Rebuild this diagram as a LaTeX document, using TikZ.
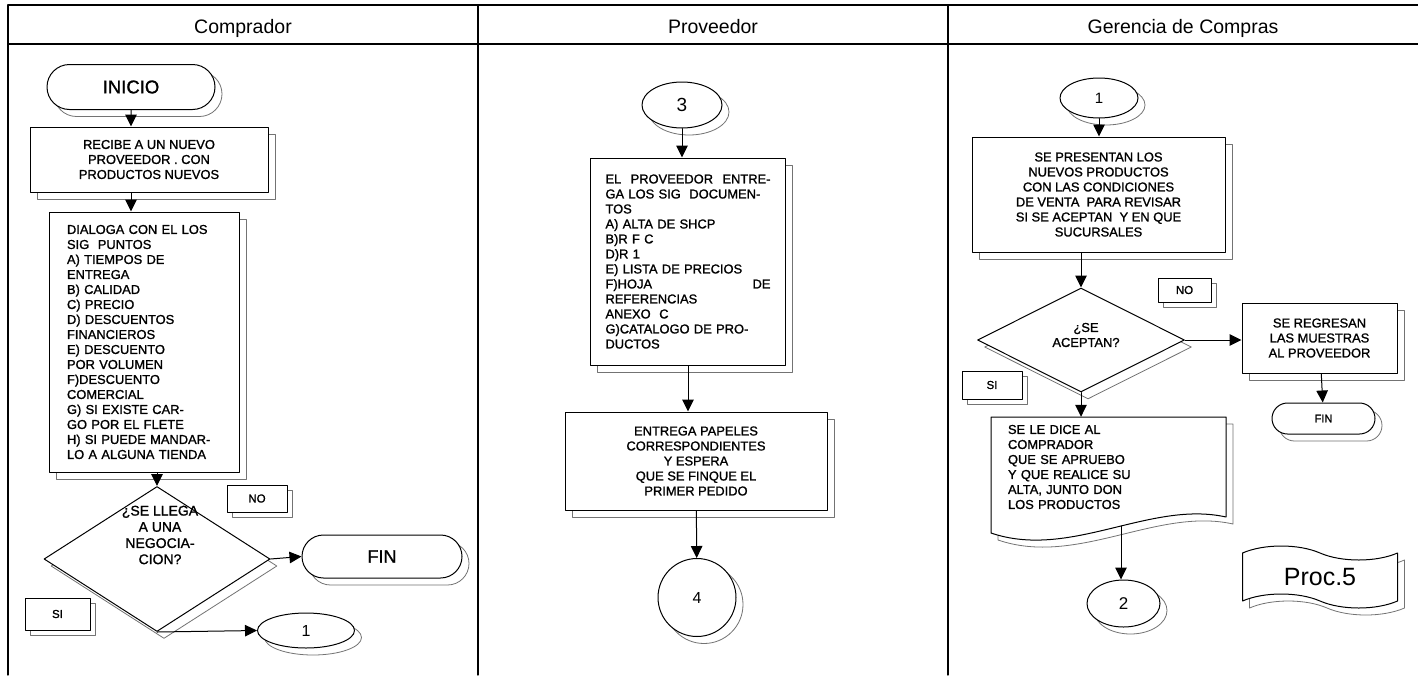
\documentclass[tikz,border=0pt]{standalone}
\usepackage{fontspec}
\setmainfont{Liberation Sans}
\newfontfamily\cajafam{Liberation Sans}[FakeBold=1.2]
\usetikzlibrary{shapes,arrows.meta,shadows}
\newcommand{\cajafont}{\cajafam\fontsize{12.9}{15}\selectfont}

\begin{document}
\begin{tikzpicture}
      [x=1pt,y=-1pt,line cap=round,line join=round,
       carril/.style={line width=1.3pt},
       sombra/.style={copy shadow={shadow xshift=7pt,shadow yshift=-7pt,draw=black!55,fill=white,line width=0.8pt}},
       caja/.style={rectangle,draw,fill=white,line width=1pt,inner sep=2pt,font=\cajafont,sombra},
       term/.style={rounded rectangle,draw,fill=white,line width=1pt,inner sep=0pt,sombra},
       elipse/.style={ellipse,draw,fill=white,line width=1pt,inner sep=0pt,sombra},
       decision/.style={diamond,draw,fill=white,line width=1pt,inner sep=0pt,aspect=2,font=\cajafont,sombra},
       etiqueta/.style={rectangle,draw,fill=white,line width=1pt,inner sep=0pt,font=\cajafam\fontsize{11.5}{12}\selectfont,
                        copy shadow={shadow xshift=5pt,shadow yshift=-5pt,draw=black!55,fill=white,line width=0.8pt}},
       cinta/.style={tape,draw,fill=white,line width=1pt,tape bend top=out and in,tape bend bottom=out and in,
                     tape bend height=14pt,minimum width=155pt,minimum height=62pt,font=\fontsize{25}{28}\selectfont,sombra},
       encabezado/.style={anchor=base,font=\fontsize{19.5}{22}\selectfont},
       flecha/.style={-{Triangle[length=12pt,width=11.5pt]},line width=1pt}]
\useasboundingbox (0,0) rectangle (1418,675);

%carriles y encabezados
  \draw[carril] (8,675) -- (8,5) -- (1418,5);
  \draw[carril] (8,44) -- (1418,44);
\foreach \xc in {478,948}
  \draw[carril] (\xc,5) -- (\xc,675);
  \node[encabezado] (hcomp) at (243,33) {Comprador};
  \node[encabezado] (hprov) at (713,33) {Proveedor};
  \node[encabezado] (hger) at (1183,33.5) {Gerencia de Compras};

%comprador
  \node[term,minimum width=168pt,minimum height=45pt,font=\cajafam\fontsize{18.5}{20}\selectfont] (inicio) at (131,87) {INICIO};
  \node[caja,minimum width=238pt,minimum height=65pt,align=center] (recibe) at (149,159.5)
       {RECIBE A UN NUEVO\\PROVEEDOR . CON\\PRODUCTOS NUEVOS};
  \node[caja,minimum width=190pt,minimum height=260pt,text width=154pt,align=left] (dialoga) at (144,342)
       {DIALOGA CON EL LOS\\SIG~ PUNTOS\\A) TIEMPOS DE\\ENTREGA\\B) CALIDAD\\C) PRECIO\\D) DESCUENTOS\\FINANCIEROS\\
        E) DESCUENTO\\POR VOLUMEN\\F)DESCUENTO\\COMERCIAL\\G) SI EXISTE CAR-\\GO POR EL FLETE\\H) SI PUEDE MANDAR-\\LO A ALGUNA TIENDA};
  \node[decision,minimum width=226pt,minimum height=145pt] (dec1) at (157,559) {};
  \node[align=center,inner sep=0pt,font=\cajafam\fontsize{14}{16.2}\selectfont] (dec1txt) at (160,535)
       {¿SE LLEGA\\A UNA\\NEGOCIA-\\CION?};
  \node[etiqueta,minimum width=60pt,minimum height=27pt] (no1) at (257,498.5) {NO};
  \node[term,minimum width=160pt,minimum height=43pt,font=\cajafam\fontsize{18}{20}\selectfont] (fin1) at (382,556.5) {FIN};
  \node[etiqueta,minimum width=65pt,minimum height=32pt] (si1) at (57.5,614) {SI};
  \node[elipse,minimum width=97pt,minimum height=35pt,font=\fontsize{16}{18}\selectfont] (uno) at (306,630.5) {1};

  \draw[flecha] (inicio) -- (inicio |- recibe.north);
  \draw[flecha] (inicio |- recibe.south) -- (inicio |- dialoga.north);
  \draw[flecha] (dec1 |- dialoga.south) -- (dec1.north);
  \draw[flecha] (dec1.east) -- (fin1.west);
  \draw[flecha] (dec1.south) -- (uno.west);

%proveedor
  \node[elipse,minimum width=80pt,minimum height=46pt,font=\fontsize{19}{21}\selectfont] (tres) at (682,105) {3};
  \node[caja,minimum width=195pt,minimum height=207pt,text width=165pt,align=left] (docs) at (688,261.5)
       {EL\hfill PROVEEDOR\hfill ENTRE-\\GA LOS SIG~ DOCUMEN-\\TOS\\A) ALTA DE SHCP\\B)R F C\\D)R 1\\E) LISTA DE PRECIOS\\
        F)HOJA\hfill DE\\REFERENCIAS\\ANEXO~ C\\G)CATALOGO DE PRO-\\DUCTOS};
  \node[caja,minimum width=262pt,minimum height=98pt,align=center] (papeles) at (696,461)
       {ENTREGA PAPELES\\CORRESPONDIENTES\\Y ESPERA\\QUE SE FINQUE EL\\PRIMER PEDIDO};
  \node[elipse,circle,minimum size=78pt,font=\fontsize{16}{18}\selectfont] (cuatro) at (697,597.5) {4};

  \draw[flecha] (tres) -- (tres |- docs.north);
  \draw[flecha] (docs) -- (docs |- papeles.north);
  \draw[flecha] (papeles) -- (cuatro);

%gerencia de compras
  \node[elipse,minimum width=78pt,minimum height=40pt,font=\fontsize{15}{17}\selectfont] (unob) at (1099,98) {1};
  \node[caja,minimum width=253pt,minimum height=115pt,align=center] (presenta) at (1098.5,194.5)
       {SE PRESENTAN LOS\\NUEVOS PRODUCTOS\\CON LAS CONDICIONES\\DE VENTA~ PARA REVISAR\\SI SE ACEPTAN~ Y EN QUE\\SUCURSALES};
  \node[decision,minimum width=207pt,minimum height=104pt] (dec2) at (1081,340) {};
  \node[align=center,inner sep=0pt,font=\cajafont] (dec2txt) at (1086,335) {¿SE\\ACEPTAN?};
  \node[etiqueta,minimum width=53pt,minimum height=24pt] (no2) at (1184.5,290) {NO};
  \node[caja,minimum width=155pt,minimum height=70pt,align=center] (regresa) at (1319.5,338)
       {SE REGRESAN\\LAS MUESTRAS\\AL PROVEEDOR};
  \node[term,minimum width=103pt,minimum height=31pt,font=\cajafam\fontsize{11}{12}\selectfont] (fin2) at (1323.5,418.5) {FIN};
  \node[etiqueta,minimum width=60pt,minimum height=28pt] (si2) at (992,385) {SI};

%documento
  \draw[draw=black!55,line width=0.8pt,fill=white] (998,424) -- (1233,424) -- (1233,524)
        .. controls (1157,507) and (1077,567) .. (998,540) -- cycle;
  \draw[line width=1pt,fill=white] (991,417) -- (1226,417) -- (1226,517)
        .. controls (1150,500) and (1070,560) .. (991,533) -- cycle;
  \node[minimum width=235pt,minimum height=100pt,text width=201pt,align=left,font=\cajafont] (aviso) at (1108.5,467)
       {SE LE DICE AL\\COMPRADOR\\QUE SE APRUEBO\\Y QUE REALICE SU\\ALTA, JUNTO DON\\LOS PRODUCTOS};
  \coordinate (avisob) at (1121,526);
  \node[elipse,minimum width=73pt,minimum height=47pt,font=\fontsize{17}{19}\selectfont] (dos) at (1123.5,603.5) {2};
  \node[cinta] (proc) at (1320,577) {Proc.5};

  \draw[flecha] (unob) -- (unob |- presenta.north);
  \draw[flecha] (dec2 |- presenta.south) -- (dec2.north);
  \draw[flecha] (dec2.east) -- (dec2.east -| regresa.west);
  \draw[flecha] (regresa) -- (fin2);
  \draw[flecha] (dec2.south) -- (dec2.south |- aviso.north);
  \draw[flecha] (avisob) -- (avisob |- dos.north);

\end{tikzpicture}
\end{document}
